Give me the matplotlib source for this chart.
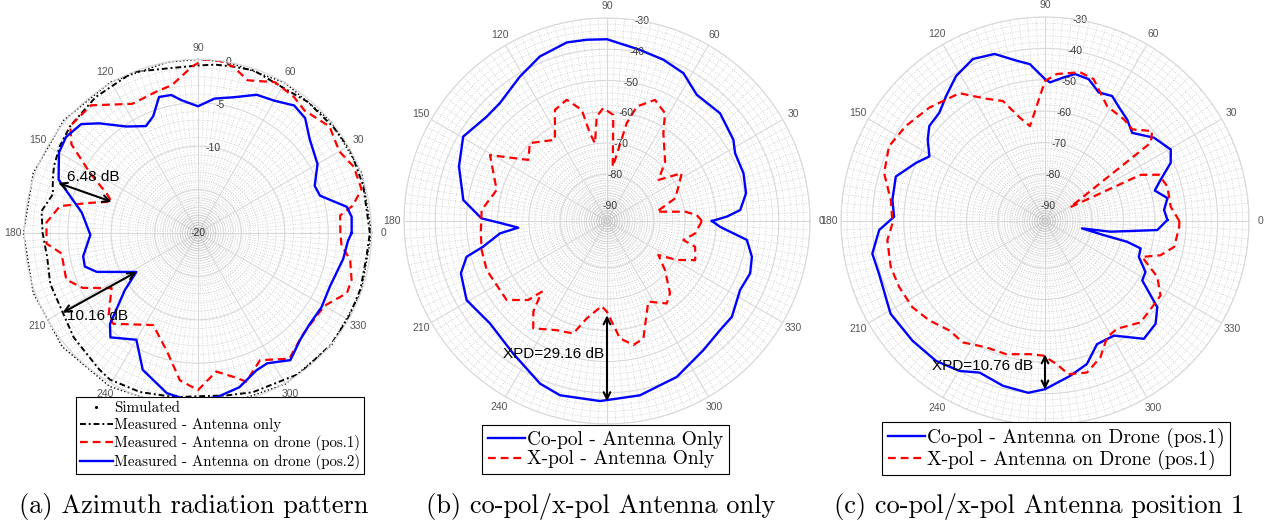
import numpy as np
import matplotlib
matplotlib.use("Agg")
import matplotlib.pyplot as plt
from matplotlib.lines import Line2D

# ---------------- (a) azimuth pattern, normalised dB ----------------
ang_a_sim = [0, 20, 40, 60, 80, 90, 100, 120, 140, 160, 180, 200, 220, 240, 260, 280, 300, 320, 340]
sim_a = [0.0, 0.1, 0.0, 0.0, 0.0, 0.0, 0.0, 0.1, 0.2, 0.2, 0.1, 0.2, 0.4, 0.4, 0.2, 0.0, 0.1, 0.1, 0.0]

ang_a_blk = [0, 16, 29, 38, 50, 60, 71, 78, 84, 90, 101, 112, 127, 140, 148, 155, 158, 162, 165, 172,
             180, 189, 199, 211, 220, 234, 239, 250, 262, 271, 280, 289, 306, 320, 331, 341, 352]
blk_a = [-0.2, -0.2, 0.0, -0.2, -0.3, -0.6, -0.2, -0.4, -0.5, -0.7, -0.7, 0.0, -0.4, -0.8, -1.2, -1.7,
         -2.0, -2.4, -2.7, -1.8, -2.1, -2.4, -2.0, -1.9, -1.3, -0.6, -0.3, -0.5, -0.9, -1.2, -1.0, -0.6,
         0.0, 0.0, -0.1, -0.2, -0.4]

ang_a_p1 = [0, 7, 10, 15, 23, 30, 39, 49, 55, 63, 72, 78, 83, 88, 92, 100, 106, 117, 130, 140, 145,
            151, 156.5, 160, 165, 169, 176, 184, 188.5, 199.5, 205.5, 212.5, 223, 227, 244, 255, 263,
            270, 277.5, 284, 288, 296, 306, 316, 330, 338, 343, 350, 355]
p1_a = [-3.6, -3.5, -1.9, -0.5, -0.5, -1.2, -0.5, -1.3, -0.8, -0.5, -1.5, -0.4, 0.0, 0.0, -0.8, -2.7,
        -3.0, -3.3, -0.8, -0.8, -2.2, -5.8, -8.5, -9.4, -6.7, -3.8, -2.5, -2.5, -4.1, -3.9, -5.3, -8.2,
        -5.9, -5.7, -8.2, -6.0, -2.9, -1.9, -3.9, -2.9, -2.0, -3.7, -2.1, -3.2, -3.2, -1.5, -1.5, -2.2,
        -3.4]

ang_a_p2 = [0, 6, 10, 17, 22, 30, 40, 47, 53, 60, 67, 75, 83, 90, 97, 101, 106, 111, 116, 124, 132,
            137, 144, 150, 159, 164, 170, 181, 191.5, 196.5, 201, 212.3, 218, 226, 230, 240, 248, 259,
            268, 277, 285, 293, 298, 306, 314, 321, 329, 338, 350, 357]
p2_a = [-2.3, -2.2, -2.6, -5.3, -5.5, -4.1, -3.2, -1.9, -1.6, -2.4, -2.7, -3.8, -4.4, -5.4, -4.6, -3.8,
        -3.7, -5.6, -6.3, -5.2, -3.0, -1.6, -1.2, -1.5, -2.8, -4.7, -6.4, -7.6, -6.5, -6.4, -7.5, -11.6,
        -9.3, -5.4, -4.3, -5.8, -3.0, -1.2, -0.6, -1.0, -1.6, -2.8, -3.0, -1.9, -3.0, -3.4, -3.4, -3.6,
        -3.0, -2.7]

diff_a1 = [(160.3, -2.9), (160.1, -9.4)]      # 6.48 dB
diff_a2 = [(210.5, -1.9), (212.3, -11.6)]     # 10.16 dB

# ---------------- (b) co/x-pol, antenna only ----------------
ang_b_co = [0, 2.1, 4.7, 11.3, 19.3, 27.9, 32.7, 43.6, 54.6, 62.7, 70.7, 79.1, 90, 96.4, 102.7, 112.2,
            121.1, 132.3, 139.1, 149.6, 159.8, 171.7, 178.8, 181, 184.3, 186.6, 191.7, 194.3, 199.7,
            209.4, 221.2, 234.7, 247.6, 254.9, 267.8, 280.7, 294.1, 306.7, 316, 322.5, 332.6, 339.9,
            346.1, 352.3, 354.4, 357.1]
co_b = [-61.4, -56.6, -52.2, -49.6, -48.7, -48.6, -46.9, -45.0, -45.4, -41.7, -40.3, -39.2, -36.8,
        -36.6, -36.4, -38.1, -41.0, -44.0, -44.0, -41.6, -44.5, -48.5, -54.8, -60.7, -66.5, -60.5,
        -54.5, -48.6, -45.3, -43.4, -45.2, -43.0, -38.7, -37.2, -37.3, -38.2, -40.3, -43.4, -44.7,
        -44.6, -47.0, -46.2, -47.2, -49.8, -54.3, -58.8]

ang_b_x = [0, 3.8, 6.8, 10.6, 18.4, 25.7, 32.6, 38.6, 45.6, 57.3, 61.7, 68.4, 75.4, 78.6, 82.5, 84,
           86.6, 91.9, 95.6, 98.8, 101, 102.8, 108.4, 115.1, 122.7, 134.7, 142.2, 150.6, 164.3, 175,
           185.6, 193, 202.2, 218.2, 225.1, 227.3, 230.9, 235.5, 245.2, 253.3, 258.2, 266.4, 270,
           276.3, 282, 287.2, 297.1, 305.9, 311.1, 319.8, 326.5, 330.8, 336.1, 343.7, 346, 352]
x_b = [-64.6, -66.2, -69.8, -78.8, -72.0, -69.6, -66.6, -73.9, -68.4, -61.6, -55.8, -53.3, -57.1,
       -63.0, -75.3, -77.5, -61.0, -58.8, -61.4, -69.8, -66.4, -58.5, -54.1, -55.7, -64.1, -59.9,
       -63.1, -52.0, -58.3, -54.7, -54.4, -53.8, -53.4, -54.1, -59.3, -64.2, -57.6, -53.3, -56.5,
       -57.4, -63.1, -67.7, -65.9, -57.2, -54.4, -55.6, -66.0, -62.4, -64.3, -70.7, -75.3, -69.4,
       -64.1, -65.6, -69.8, -66.5]

xpd_b = [(270, -64.8), (270, -37.3)]          # 29.16 dB

# ---------------- (c) co/x-pol, antenna on drone pos.1 ----------------
ang_c_co = [0.5, 5.3, 10.6, 15.5, 19.6, 24.8, 29.6, 37.4, 45.3, 51, 55.9, 61.8, 67.3, 72.9, 78.4,
            82.7, 87.9, 90, 95.5, 100.1, 106.8, 114, 121.5, 128.3, 134.3, 140.6, 145.2, 150.8, 155.8,
            163.4, 172.1, 178.4, 183.1, 190.7, 197.6, 211, 222.1, 232.1, 240.3, 246.7, 255.7, 264.4,
            270, 279.2, 286.3, 292.9, 301, 310, 317.1, 322.5, 328.6, 333.1, 339.1, 344, 345.8, 346.5,
            348.7, 350.7, 355.4]
co_c = [-56.0, -56.9, -55.3, -58.7, -55.9, -50.9, -48.9, -51.3, -55.5, -53.4, -52.1, -49.8, -50.6,
        -47.7, -47.2, -48.9, -50.8, -49.8, -44.8, -43.1, -39.4, -38.5, -40.8, -44.2, -46.8, -47.3,
        -49.5, -52.8, -49.9, -45.4, -45.9, -46.9, -42.1, -39.0, -39.5, -37.6, -38.1, -38.5, -40.0,
        -42.4, -40.8, -40.0, -41.4, -45.0, -47.5, -52.4, -52.4, -46.0, -46.9, -49.9, -58.7, -59.1,
        -63.0, -63.3, -68.0, -75.8, -83.0, -73.9, -59.1]

ang_c_x = [0, 6.5, 15.7, 22.1, 25.8, 28.7, 36.5, 40, 46.4, 52.2, 61.6, 71.1, 76.7, 85.4, 90, 99,
           103.7, 109.3, 115.6, 123.8, 135.6, 145.7, 154.4, 163.4, 172.2, 180.9, 186.9, 196.6, 204.4,
           213, 220.7, 228.9, 235.9, 245.1, 253.9, 263.5, 269.3, 274.7, 278.7, 285.5, 292.1, 298.1,
           303.8, 313.3, 321.2, 327.2, 333.5, 339.7, 343.5, 348.7, 357.6]
x_c = [-52.2, -54.7, -54.5, -55.8, -61.2, -85.9, -53.1, -50.4, -54.7, -54.0, -53.4, -47.2, -46.3,
       -48.0, -50.4, -64.4, -61.1, -54.5, -51.8, -46.0, -43.4, -41.3, -39.9, -41.5, -45.4, -46.4,
       -44.4, -43.7, -44.0, -44.6, -46.4, -48.7, -48.3, -50.6, -50.8, -52.3, -52.1, -49.2, -45.6,
       -44.9, -48.1, -53.0, -53.7, -50.6, -51.2, -51.2, -55.0, -62.0, -56.6, -53.0, -52.2]

xpd_c = [(270, -52.5), (270, -41.3)]          # 10.76 dB

theta_ticks = list(range(0, 360, 30))

BLUE = '#0000ff'
RED = '#ff0000'
GRID = '#d9d9d9'
SANS = 'Liberation Sans'
SERIF = 'cmr10'


def closed(ang, val):
    t = np.deg2rad(np.append(ang, ang[0]))
    return t, np.append(val, val[0])


def setup(ax, rmin, rmax, rmaj, rlab, rminor):
    ax.set_ylim(rmin, rmax)
    ax.set_xticks(np.deg2rad(theta_ticks))
    ax.set_xticklabels([str(t) for t in theta_ticks])
    ax.set_xticks(np.deg2rad(np.arange(0, 360, 2.5)), minor=True)
    ax.set_yticks(rmaj)
    ax.set_yticklabels([])
    ax.set_yticks(rminor, minor=True)
    ax.grid(True, which='major', color=GRID, lw=0.8, ls='-')
    ax.grid(True, which='minor', color='#c8c8c8', lw=0.6, ls=(0, (1, 2)))
    ax.spines['polar'].set_color(GRID)
    ax.tick_params(which='both', length=0)
    ax.tick_params(axis='x', labelsize=7.5, labelcolor='#555555', pad=1.5)
    for lab in ax.get_xticklabels():
        lab.set_family(SANS)
    # r labels sit on the rings along the 80 degree spoke
    for v, s in zip(rmaj, rlab):
        if s:
            ax.text(np.deg2rad(80), v, s, ha='center', va='center', family=SANS,
                    size=7.5, color='#3a3a3a', zorder=2.5)


def arrow(ax, pts):
    (t1, r1), (t2, r2) = pts
    ax.annotate('', xy=(np.deg2rad(t1), r1), xytext=(np.deg2rad(t2), r2),
                arrowprops=dict(arrowstyle='<->', color='k', lw=1.5, mutation_scale=12,
                                shrinkA=0, shrinkB=0))


fig = plt.figure(figsize=(12.65, 5.23), dpi=100)
W, H = 1265.0, 523.0


def place(cx, cy, R):
    return [(cx - R) / W, (H - cy - R) / H, 2 * R / W, 2 * R / H]


leg_kw = dict(loc='center', bbox_transform=fig.transFigure, frameon=True, fancybox=False,
              framealpha=1, edgecolor='k', handletextpad=0.1, borderaxespad=0)

# (a)
ax1 = fig.add_axes(place(198, 233, 173.6), projection='polar')
setup(ax1, -20, 0, [-20, -15, -10, -5, 0], ['-20', '', '-10', '-5', '0'], np.arange(-19, 0, 1))
t, r = closed(ang_a_sim, sim_a)
ax1.plot(t, r, color='k', lw=1.0, ls=(0, (1, 1.6)), clip_on=False)
t, r = closed(ang_a_blk, blk_a)
l_blk, = ax1.plot(t, r, color='k', lw=1.4, ls=(0, (3, 1.5, 1, 1.5)))
t, r = closed(ang_a_p1, p1_a)
l_p1, = ax1.plot(t, r, color=RED, lw=1.6, ls=(0, (3.5, 2.2)))
t, r = closed(ang_a_p2, p2_a)
l_p2, = ax1.plot(t, r, color=BLUE, lw=1.7)
arrow(ax1, diff_a1)
arrow(ax1, diff_a2)
ax1.text(0.197, 0.66, '6.48 dB', transform=ax1.transAxes, ha='center', va='center', family=SANS, size=11)
ax1.text(0.211, 0.26, '10.16 dB', transform=ax1.transAxes, ha='center', va='center', family=SANS, size=11)
h_sim = Line2D([], [], color='k', marker='.', ls='none', markersize=2.5)
leg = ax1.legend([h_sim, l_blk, l_p1, l_p2],
                 ['Simulated', 'Measured - Antenna only', 'Measured - Antenna on drone (pos.1)',
                  'Measured - Antenna on drone (pos.2)'],
                 bbox_to_anchor=(220 / W, 1 - 435.5 / H), prop={'family': SERIF, 'size': 10.8},
                 handlelength=2.2, labelspacing=0.2, borderpad=0.25, **leg_kw)
leg.get_frame().set_linewidth(0.8)

# (b)
ax2 = fig.add_axes(place(607, 221, 203), projection='polar')
setup(ax2, -95, -30, list(range(-90, -29, 10)), [str(v) for v in range(-90, -29, 10)],
      np.arange(-94, -30, 2))
t, r = closed(ang_b_co, co_b)
l_bco, = ax2.plot(t, r, color=BLUE, lw=1.7)
t, r = closed(ang_b_x, x_b)
l_bx, = ax2.plot(t, r, color=RED, lw=1.6, ls=(0, (3.5, 2.2)))
arrow(ax2, xpd_b)
ax2.text(0.369, 0.172, 'XPD=29.16 dB', transform=ax2.transAxes, ha='center', va='center', family=SANS, size=11)
leg = ax2.legend([l_bco, l_bx], ['Co-pol - Antenna Only', 'X-pol - Antenna Only'],
                 bbox_to_anchor=(605.5 / W, 1 - 449.5 / H), prop={'family': SERIF, 'size': 14},
                 handlelength=1.9, labelspacing=0.1, borderpad=0.28, **leg_kw)
leg.get_frame().set_linewidth(0.8)

# (c)
ax3 = fig.add_axes(place(1045, 221, 204), projection='polar')
setup(ax3, -95, -30, list(range(-90, -29, 10)), [str(v) for v in range(-90, -29, 10)],
      np.arange(-94, -30, 2))
t, r = closed(ang_c_co, co_c)
l_cco, = ax3.plot(t, r, color=BLUE, lw=1.7)
t, r = closed(ang_c_x, x_c)
l_cx, = ax3.plot(t, r, color=RED, lw=1.6, ls=(0, (3.5, 2.2)))
arrow(ax3, xpd_c)
ax3.text(0.346, 0.145, 'XPD=10.76 dB', transform=ax3.transAxes, ha='center', va='center', family=SANS, size=11)
leg = ax3.legend([l_cco, l_cx], ['Co-pol - Antenna on Drone (pos.1)', 'X-pol - Antenna on Drone (pos.1)'],
                 bbox_to_anchor=(1056 / W, 1 - 448.5 / H), prop={'family': SERIF, 'size': 14},
                 handlelength=1.9, labelspacing=0.1, borderpad=0.28, **leg_kw)
leg.get_frame().set_linewidth(0.8)

# captions
fig.text(194 / W, 0.019, '(a) Azimuth radiation pattern', ha='center', va='baseline', family=SERIF, size=19)
fig.text(601 / W, 0.019, '(b) co-pol/x-pol Antenna only', ha='center', va='baseline', family=SERIF, size=19)
fig.text(1039 / W, 0.019, '(c) co-pol/x-pol Antenna position 1', ha='center', va='baseline', family=SERIF, size=19)

fig.savefig('out.png', dpi=100, facecolor='white')
